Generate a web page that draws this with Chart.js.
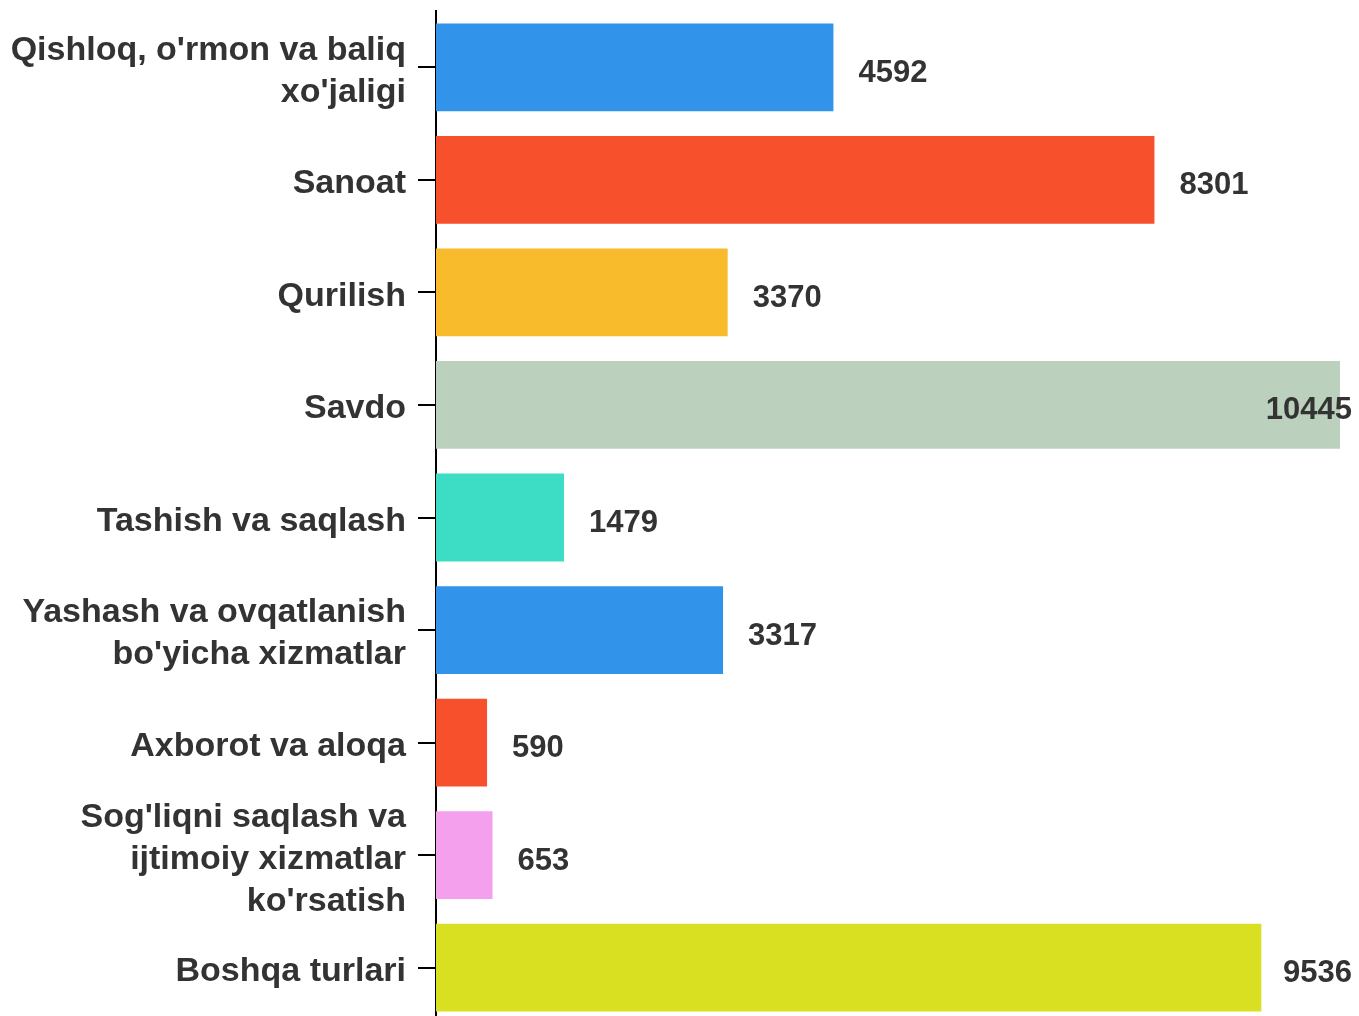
<!DOCTYPE html>
<html>
<head>
<meta charset="utf-8">
<script src="https://cdn.jsdelivr.net/npm/chart.js@4.4.0/dist/chart.umd.min.js"></script>
<style>
html,body{margin:0;padding:0;background:#fff;overflow:hidden;}
#wrap{width:1359px;height:1024px;position:relative;}
</style>
</head>
<body>
<div id="wrap"><canvas id="c"></canvas></div>
<script>
const categories = [
  ["Qishloq, o'rmon va baliq", "xo'jaligi"],
  "Sanoat",
  "Qurilish",
  "Savdo",
  "Tashish va saqlash",
  ["Yashash va ovqatlanish", "bo'yicha xizmatlar"],
  "Axborot va aloqa",
  ["Sog'liqni saqlash va", "ijtimoiy xizmatlar", "ko'rsatish"],
  "Boshqa turlari"
];
const values = [4592, 8301, 3370, 10445, 1479, 3317, 590, 653, 9536];
const barColors = ["#3194EA", "#F7502D", "#F7BB2C", "#BBD1BE", "#3DDCC4", "#3194EA", "#F7502D", "#F5A0EC", "#D8E021"];

const valueLabels = {
  id: 'valueLabels',
  afterDatasetsDraw(chart) {
    const ctx = chart.ctx;
    const meta = chart.getDatasetMeta(0);
    ctx.save();
    ctx.font = 'bold 31px "Liberation Sans", Arial, sans-serif';
    ctx.fillStyle = '#333333';
    ctx.textBaseline = 'middle';
    ctx.textAlign = 'left';
    meta.data.forEach((bar, i) => {
      const txt = String(values[i]);
      const w = ctx.measureText(txt).width;
      let x = bar.x + 25;
      const maxX = chart.width - 7 - w;
      if (x > maxX) x = maxX;
      ctx.fillText(txt, x, bar.y + 6);
    });
    ctx.restore();
  }
};

new Chart(document.getElementById('c'), {
  type: 'bar',
  data: {
    labels: categories,
    datasets: [{
      data: values,
      backgroundColor: barColors,
      borderWidth: 0,
      barPercentage: 0.78,
      categoryPercentage: 1.0
    }]
  },
  options: {
    indexAxis: 'y',
    responsive: true,
    maintainAspectRatio: false,
    animation: false,
    layout: { padding: { top: 11, right: 19, bottom: 0, left: 0 } },
    plugins: { legend: { display: false }, tooltip: { enabled: false } },
    scales: {
      x: {
        display: false,
        min: 0,
        max: 10445
      },
      y: {
        afterFit(scale) { scale.width = 436; scale.paddingTop = 0; scale.paddingBottom = 0; },
        afterUpdate(scale) {
          if (!scale._labelShiftPatched) {
            const orig = scale._computeLabelItems.bind(scale);
            scale._computeLabelItems = function (ca) {
              const items = orig(ca);
              items.forEach(it => {
                const t = it.options.translation;
                it.options.translation = [t[0], t[1] + 4];
              });
              return items;
            };
            scale._labelShiftPatched = true;
          }
        },
        grid: { drawOnChartArea: false, drawTicks: true, tickLength: 18, color: '#000', lineWidth: 2, offset: false },
        border: { display: true, color: '#000', width: 2 },
        ticks: {
          autoSkip: false,
          color: '#333333',
          padding: 12,
          font: { family: '"Liberation Sans", Arial, sans-serif', size: 34, weight: 'bold', lineHeight: 1.235 }
        }
      }
    }
  },
  plugins: [valueLabels]
});
</script>
</body>
</html>
